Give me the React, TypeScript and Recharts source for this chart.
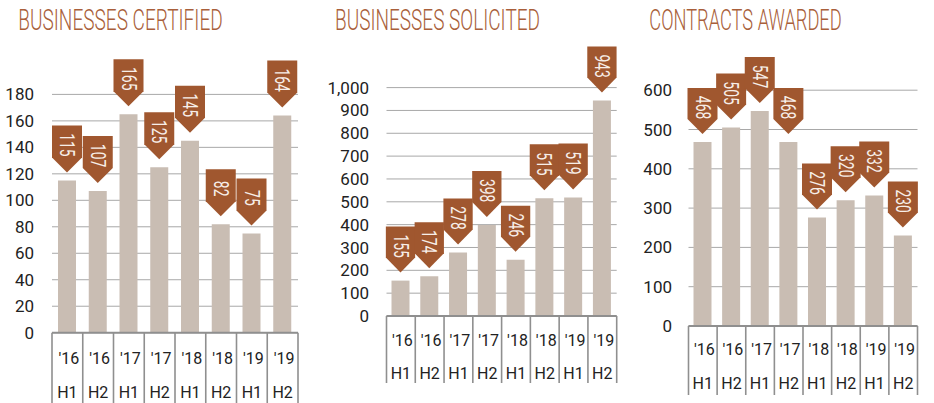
import React from "react";
import { BarChart, Bar, XAxis, YAxis, CartesianGrid } from "recharts";

const years = ["'16", "'16", "'17", "'17", "'18", "'18", "'19", "'19"];
const halves = ["H1", "H2", "H1", "H2", "H1", "H2", "H1", "H2"];
const certified = [115, 107, 165, 125, 145, 82, 75, 164];
const solicited = [155, 174, 278, 398, 246, 515, 519, 943];
const awarded = [468, 505, 547, 468, 276, 320, 332, 230];

const certTicks = [0, 20, 40, 60, 80, 100, 120, 140, 160, 180];
const solTicks = [0, 100, 200, 300, 400, 500, 600, 700, 800, 900, 1000];
const awdTicks = [0, 100, 200, 300, 400, 500, 600];

const titles = ["BUSINESSES CERTIFIED", "BUSINESSES SOLICITED", "CONTRACTS AWARDED"];

const BAR = "#c9bdb3";
const BADGE = "#a0572f";
const TITLE = "#a95f3b";
const GRID = "#a8a8a8";
const AXIS = "#8f8f8f";

const build = (vals: number[]) =>
  vals.map((v, i) => ({ name: years[i] + " " + halves[i], year: years[i], half: halves[i], value: v }));

type Cfg = {
  left: number;
  width: number;
  plotLeft: number;
  plotRight: number;
  top: number;
  bottom: number;
  labelOffset: number;
  domain: [number, number];
  ticks: number[];
  data: number[];
  row1: number;
  row2: number;
  lineEnd: number;
  rectH: number;
  badgeW: number;
  fmt: (v: number) => string;
};

const charts: Cfg[] = [
  {
    left: 0, width: 310, plotLeft: 52, plotRight: 298, top: 94.4, bottom: 332.7, labelOffset: 18,
    domain: [0, 180], ticks: certTicks, data: certified, row1: 358, row2: 392.5, lineEnd: 403,
    rectH: 32, badgeW: 30, fmt: (v) => String(v),
  },
  {
    left: 310, width: 310, plotLeft: 386.5, plotRight: 616.7, top: 87.6, bottom: 316, labelOffset: 17.5,
    domain: [0, 1000], ticks: solTicks, data: solicited, row1: 340, row2: 373.3, lineEnd: 383,
    rectH: 31, badgeW: 29.3, fmt: (v) => v.toLocaleString("en-US"),
  },
  {
    left: 620, width: 314, plotLeft: 688.5, plotRight: 917.5, top: 90.2, bottom: 326, labelOffset: 16.5,
    domain: [0, 600], ticks: awdTicks, data: awarded, row1: 349, row2: 383.3, lineEnd: 395,
    rectH: 31, badgeW: 30, fmt: (v) => String(v),
  },
];

const makeBadge = (cfg: Cfg) => (props: any) => {
  const { x, y, width, value } = props;
  if (x == null || y == null) return null;
  const cx = Number(x) + Number(width) / 2;
  const tip = Number(y) - 8;
  const hw = cfg.badgeW / 2;
  const tri = 15;
  const top = tip - tri - cfg.rectH;
  const d = `M${cx - hw},${top} L${cx + hw},${top} L${cx + hw},${tip - tri} L${cx},${tip} L${cx - hw},${tip - tri} Z`;
  const ty = top + 19.5;
  const s = String(value);
  return (
    <g>
      <path d={d} fill={BADGE} />
      <text
        x={cx}
        y={ty}
        transform={`rotate(90 ${cx} ${ty})`}
        textAnchor="middle"
        dominantBaseline="central"
        fill="#f7eee8"
        fontFamily="Roboto, 'Liberation Sans', sans-serif"
        fontSize={20}
        textLength={s.length * 7.8}
        lengthAdjust="spacingAndGlyphs"
      >
        {s}
      </text>
    </g>
  );
};

const makeTick = (cfg: Cfg) => (props: any) => {
  const { x, index } = props;
  const bw = (cfg.plotRight - cfg.plotLeft) / 8;
  const i = typeof index === "number" ? index : 0;
  const item = build(cfg.data)[i];
  const offY = cfg.bottom;
  const lineBottom = cfg.lineEnd;
  const yr = item ? item.year : "";
  const hf = item ? item.half : "";
  return (
    <g>
      <line x1={x - bw / 2} x2={x - bw / 2} y1={offY} y2={lineBottom} stroke={AXIS} strokeWidth={1.6} />
      {i === 7 && (
        <line x1={x + bw / 2} x2={x + bw / 2} y1={offY} y2={lineBottom} stroke={AXIS} strokeWidth={1.6} />
      )}
      <text x={x + 1.5} y={cfg.row1} textAnchor="middle" dominantBaseline="central" fill="#222" fontSize={16}
        fontFamily="Roboto, sans-serif">
        {yr}
      </text>
      <text x={x} y={cfg.row2} textAnchor="middle" dominantBaseline="central" fill="#222" fontSize={16}
        fontFamily="Roboto, sans-serif">
        {hf}
      </text>
    </g>
  );
};

const Panel = ({ cfg }: { cfg: Cfg }) => {
  const H = 403;
  const data = build(cfg.data);
  const yw = cfg.plotLeft - cfg.left;
  return (
    <div style={{ position: "absolute", left: cfg.left, top: 0, width: cfg.width, height: H }}>
      <BarChart
        width={cfg.width}
        height={H}
        data={data}
        margin={{ top: cfg.top, right: cfg.left + cfg.width - cfg.plotRight, left: 0, bottom: 0 }}
      >
        <CartesianGrid vertical={false} stroke={GRID} strokeWidth={1} />
        <YAxis
          width={yw}
          domain={cfg.domain}
          ticks={cfg.ticks}
          interval={0}
          axisLine={false}
          tickLine={false}
          tickSize={0}
          tickMargin={cfg.labelOffset}
          tickFormatter={cfg.fmt}
          tick={{ fill: "#222", fontSize: 17, fontFamily: "Roboto, sans-serif" }}
        />
        <XAxis
          dataKey="name"
          height={H - cfg.bottom}
          interval={0}
          tickLine={false}
          tickSize={0}
          tickMargin={0}
          axisLine={{ stroke: AXIS, strokeWidth: 2 }}
          tick={makeTick(cfg)}
        />
        <Bar dataKey="value" fill={BAR} barSize={18} isAnimationActive={false} label={makeBadge(cfg)} />
      </BarChart>
    </div>
  );
};

const titlePos = [
  { x: 18.3, w: 204.4 },
  { x: 335, w: 205 },
  { x: 649.3, w: 192.4 },
];
const TITLE_SX = 0.62;

export default function App() {
  return (
    <div style={{ position: "absolute", left: 0, top: 0, width: 934, height: 403, background: "#fff", overflow: "hidden" }}>
      {charts.map((c, i) => (
        <Panel key={i} cfg={c} />
      ))}
      <svg width={934} height={403} style={{ position: "absolute", left: 0, top: 0, pointerEvents: "none" }}>
        {titles.map((t, i) => (
          <text
            key={i}
            x={0}
            y={0}
            transform={`translate(${titlePos[i].x} 29.5) scale(${TITLE_SX} 1)`}
            fill={TITLE}
            fontSize={29}
            fontWeight={300}
            fontFamily="Roboto, 'Open Sans', sans-serif"
            textLength={titlePos[i].w / TITLE_SX}
            lengthAdjust="spacingAndGlyphs"
          >
            {t}
          </text>
        ))}
      </svg>
    </div>
  );
}
